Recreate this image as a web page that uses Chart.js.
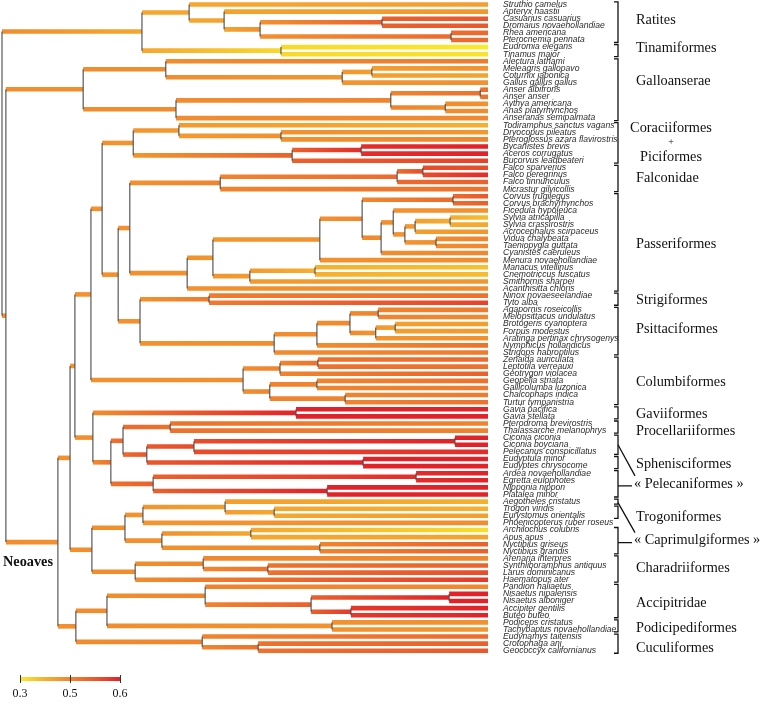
<!DOCTYPE html>
<html>
<head>
<meta charset="utf-8">
<title>Bird phylogeny – rate map</title>
<script src="https://cdn.jsdelivr.net/npm/chart.js@4.4.1/dist/chart.umd.min.js"></script>
<style>
  html, body { margin: 0; padding: 0; background: #fff; }
  #wrap { width: 764px; height: 705px; position: relative; }
</style>
</head>
<body>
<div id="wrap"><canvas id="tree"></canvas></div>
<script>
// ---- tips (top to bottom) ----
const tipNames = [
  "Struthio camelus","Apteryx haastii","Casuarius casuarius","Dromaius novaehollandiae","Rhea americana",
  "Pterocnemia pennata","Eudromia elegans","Tinamus major","Alectura lathami","Meleagris gallopavo",
  "Coturnix japonica","Gallus gallus gallus","Anser albifrons","Anser anser","Aythya americana",
  "Anas platyrhynchos","Anseranas semipalmata","Todiramphus sanctus vagans","Dryocopus pileatus","Pteroglossus azara flavirostris",
  "Bycanistes brevis","Aceros corrugatus","Bucorvus leadbeateri","Falco sparverius","Falco peregrinus",
  "Falco tinnunculus","Micrastur gilvicollis","Corvus frugilegus","Corvus brachyrhynchos","Ficedula hypoleuca",
  "Sylvia atricapilla","Sylvia crassirostris","Acrocephalus scirpaceus","Vidua chalybeata","Taeniopygia guttata",
  "Cyanistes caeruleus","Menura novaehollandiae","Manacus vitellinus","Cnemotriccus fuscatus","Smithornis sharpei",
  "Acanthisitta chloris","Ninox novaeseelandiae","Tyto alba","Agapornis roseicollis","Melopsittacus undulatus",
  "Brotogeris cyanoptera","Forpus modestus","Aratinga pertinax chrysogenys","Nymphicus hollandicus","Strigops habroptilus",
  "Zenaida auriculata","Leptotila verreauxi","Geotrygon violacea","Geopelia striata","Gallicolumba luzonica",
  "Chalcophaps indica","Turtur tympanistria","Gavia pacifica","Gavia stellata","Pterodroma brevirostris",
  "Thalassarche melanophrys","Ciconia ciconia","Ciconia boyciana","Pelecanus conspicillatus","Eudyptula minor",
  "Eudyptes chrysocome","Ardea novaehollandiae","Egretta eulophotes","Nipponia nippon","Platalea minor",
  "Aegotheles cristatus","Trogon viridis","Eurystomus orientalis","Phoenicopterus ruber roseus","Archilochus colubris",
  "Apus apus","Nyctibius griseus","Nyctibius grandis","Arenaria interpres","Synthliboramphus antiquus",
  "Larus dominicanus","Haematopus ater","Pandion haliaetus","Nisaetus nipalensis","Nisaetus alboniger",
  "Accipiter gentilis","Buteo buteo","Podiceps cristatus","Tachybaptus novaehollandiae","Eudynamys taitensis",
  "Crotophaga ani","Geococcyx californianus"
];

// rate value at each tip
const tipRate = [
  0.44,0.46,0.55,0.55,0.53, 0.53,0.30,0.31,0.51,0.47,
  0.43,0.47,0.53,0.52,0.47, 0.48,0.49,0.40,0.46,0.50,
  0.60,0.60,0.57,0.56,0.59, 0.54,0.52,0.55,0.54,0.47,
  0.38,0.42,0.46,0.50,0.49, 0.49,0.48,0.37,0.38,0.46,
  0.48,0.52,0.57,0.51,0.49, 0.44,0.45,0.47,0.52,0.51,
  0.53,0.52,0.54,0.52,0.51, 0.51,0.52,0.60,0.60,0.50,
  0.50,0.60,0.60,0.59,0.60, 0.60,0.60,0.60,0.60,0.60,
  0.40,0.40,0.44,0.48,0.32, 0.43,0.54,0.54,0.49,0.54,
  0.56,0.58,0.49,0.60,0.60, 0.60,0.60,0.47,0.46,0.53,
  0.54,0.55
];

// ---- topology (tips = indices above, internal nodes = nK) ----
const palaeognathae  = "((0,(1,((2,3)n0,(4,5)n1)n2)n3)n4,(6,7)n5)n6";
const galloanserae   = "((8,((9,10)n7,11)n8)n9,(((12,13)n10,(14,15)n11)n12,16)n13)n14";
const coraciiPici    = "((17,(18,19)n15)n16,((20,21)n17,22)n18)n19";
const falconidae     = "(((23,24)n20,25)n21,26)n22";
const passeriformes  = "(((((27,28)n23,((29,(((30,31)n24,32)n25,(33,34)n26)n27)n28,35)n29)n30,36)n31,((37,38)n32,39)n33)n34,40)n35";
const strigiformes   = "(41,42)n37";
const psittaciformes = "((((43,44)n38,((45,46)n39,47)n40)n41,48)n42,49)n43";
const columbiformes  = "(((50,51)n47,52)n48,((53,54)n49,(55,56)n50)n51)n52";
const waterbirds     = "((57,58)n54,(((59,60)n55,(((61,62)n56,63)n57,(64,65)n58)n59)n60,((66,67)n61,(68,69)n62)n63)n64)n65";
const otherLand      = "((((70,(71,72)n67)n68,73)n69,((74,75)n70,(76,77)n71)n72)n73,((78,(79,80)n74)n75,81)n76)n77";
const raptorsCuckoos = "(((82,((83,84)n79,(85,86)n80)n81)n82,(87,88)n83)n84,(89,(90,91)n85)n86)n87";

const topology =
  `(${palaeognathae},(${galloanserae},(((((${coraciiPici},((${falconidae},${passeriformes})n36,` +
  `(${strigiformes},${psittaciformes})n44)n45)n46,${columbiformes})n53,${waterbirds})n66,${otherLand})n78,` +
  `${raptorsCuckoos})n88)n89)n90`;

// depth of internal node nK (root = 0, tips = 100)
const nodeDepth = [
  78.2,92.4,53.1,45.7,38.5,57.4,28.8,76.1,70.0,33.7,
  98.4,91.2,80.0,35.8,16.7,57.4,36.4,73.9,59.7,27.0,
  86.6,81.3,44.9,92.8,92.2,85.0,89.3,82.9,80.5,78.0,
  74.1,65.4,64.4,51.0,43.4,38.1,26.3,42.6,77.4,80.9,
  76.9,71.6,64.8,56.0,28.4,23.9,20.6,65.0,57.2,64.8,
  70.6,55.1,49.6,18.3,60.5,34.6,93.2,39.5,74.3,29.8,
  24.9,85.2,66.9,31.1,22.4,18.7,15.0,56.0,45.9,29.0,
  51.2,65.4,32.9,25.3,54.7,41.4,27.4,18.5,14.0,92.0,
  71.8,63.6,41.8,67.9,21.6,52.7,41.2,15.2,11.5,0.8,
  0
];
// rate value at internal node nK
const nodeRate = [
  0.54,0.53,0.47,0.43,0.42,0.33,0.42,0.44,0.46,0.48,
  0.52,0.48,0.50,0.48,0.48,0.47,0.45,0.59,0.54,0.46,
  0.56,0.53,0.50,0.53,0.41,0.44,0.48,0.46,0.47,0.48,
  0.49,0.47,0.40,0.45,0.46,0.47,0.47,0.51,0.50,0.44,
  0.46,0.49,0.48,0.48,0.47,0.47,0.47,0.52,0.50,0.50,
  0.50,0.50,0.48,0.47,0.60,0.52,0.60,0.56,0.60,0.55,
  0.53,0.59,0.60,0.54,0.52,0.48,0.47,0.42,0.44,0.46,
  0.42,0.50,0.47,0.47,0.52,0.49,0.48,0.48,0.47,0.60,
  0.58,0.54,0.50,0.47,0.48,0.52,0.50,0.48,0.47,0.48,
  0.48
];

// ---- clade brackets ----
const cladeNames = ["Ratites","Tinamiformes","Galloanserae","Coraciiformes|+|Piciformes","Falconidae","Passeriformes",
  "Strigiformes","Psittaciformes","Columbiformes","Gaviiformes","Procellariiformes","Sphenisciformes",
  "Trogoniformes","Charadriiformes","Accipitridae","Podicipediformes","Cuculiformes"];
const cladeFirst = [0,6,8,17,23,27,41,43,50,57,59,64,71,78,82,87,89];
const cladeLast  = [5,7,16,22,26,40,42,49,56,58,60,65,72,81,86,88,91];
const cladeLabelAt = [2.2,6.2,10.8,19.5,24.5,33.7,41.6,45.8,53.2,57.7,60.1,64.8,72.2,79.4,84.3,87.8,90.7];
// paraphyletic groups: two brackets joined to one label
const splitNames = ["« Pelecaniformes »","« Caprimulgiformes »"];
const splitA = [[61,63],[70,70]];
const splitB = [[66,69],[74,77]];

// colour scale
const cbStops  = [0.3, 0.4, 0.5, 0.55, 0.6];
const cbColors = [[249,234,42],[246,176,46],[240,132,46],[233,88,44],[226,34,41]];
// colour-bar legend ticks (placed at equal steps along the bar)
const cbTicks  = [0.3, 0.5, 0.6];

function rateColor(v) {
  v = Math.max(cbStops[0], Math.min(cbStops[cbStops.length - 1], v));
  for (let i = 1; i < cbStops.length; i++) {
    if (v <= cbStops[i]) {
      const t = (v - cbStops[i - 1]) / (cbStops[i] - cbStops[i - 1]);
      const a = cbColors[i - 1], b = cbColors[i];
      return `rgb(${a.map((c, k) => Math.round(c + (b[k] - c) * t)).join(",")})`;
    }
  }
  return `rgb(${cbColors[cbColors.length - 1].join(",")})`;
}
// position of a value along the legend bar (tick index units)
function barPos(v) {
  for (let i = 1; i < cbTicks.length; i++) {
    if (v <= cbTicks[i]) return i - 1 + (v - cbTicks[i - 1]) / (cbTicks[i] - cbTicks[i - 1]);
  }
  return cbTicks.length - 1;
}

// ---- parse + layout ----
function parseNewick(s) {
  let i = 0;
  function node() {
    if (s[i] === "(") {
      i++;
      const kids = [node()];
      while (s[i] === ",") { i++; kids.push(node()); }
      i++; // ')'
      let lab = "";
      while (i < s.length && /[n0-9]/.test(s[i])) lab += s[i++];
      return { id: +lab.slice(1), kids };
    }
    let num = "";
    while (i < s.length && /[0-9]/.test(s[i])) num += s[i++];
    return { tip: +num };
  }
  return node();
}

const branches = [], links = [];
function layout(nd, parent) {
  if (nd.kids) {
    nd.x = nodeDepth[nd.id];
    nd.r = nodeRate[nd.id];
    nd.kids.forEach(k => layout(k, nd));
    nd.y = (nd.kids[0].y + nd.kids[nd.kids.length - 1].y) / 2;
    links.push({ x: nd.x, y0: nd.kids[0].y, y1: nd.kids[nd.kids.length - 1].y });
  } else {
    nd.x = 100;
    nd.r = tipRate[nd.tip];
    nd.y = nd.tip;
  }
  if (parent) branches.push({ x0: parent.x, x1: nd.x, y: nd.y, r0: parent.r, r1: nd.r });
}
layout(parseNewick(topology), null);

function branchGradient(chart, b) {
  const xs = chart.scales.x;
  if (!xs || !chart.chartArea) return rateColor(b.r1);
  const g = chart.ctx.createLinearGradient(xs.getPixelForValue(b.x0), 0, xs.getPixelForValue(b.x1), 0);
  g.addColorStop(0, rateColor(b.r0));
  g.addColorStop(1, rateColor(b.r1));
  return g;
}

const datasets = [];
branches.forEach(b => datasets.push({
  data: [{ x: b.x0, y: b.y }, { x: b.x1, y: b.y }],
  showLine: true, pointRadius: 0, borderWidth: 4.6, borderCapStyle: "butt",
  borderColor: c => branchGradient(c.chart, b), order: 2, clip: false
}));
links.forEach(l => datasets.push({
  data: [{ x: l.x, y: l.y0 }, { x: l.x, y: l.y1 }],
  showLine: true, pointRadius: 0, borderWidth: 1.1, borderColor: "#4a4a4a", order: 1, clip: false
}));

const SERIF = "'Liberation Serif', 'Times New Roman', serif";

// brackets, group names, colour bar, Neoaves label
const annotations = {
  id: "annotations",
  afterDraw(chart) {
    const { ctx, scales: { y, cb } } = chart;
    const bx = 618;
    ctx.save();
    ctx.strokeStyle = "#111";
    ctx.lineWidth = 1.3;
    const bracket = (a, b) => {
      const t = y.getPixelForValue(a) - 2.5, d = y.getPixelForValue(b) + 2.5;
      ctx.beginPath();
      ctx.moveTo(bx - 4, t); ctx.lineTo(bx, t); ctx.lineTo(bx, d); ctx.lineTo(bx - 4, d);
      ctx.stroke();
      return [t, d];
    };
    ctx.fillStyle = "#111";
    ctx.textBaseline = "middle";
    ctx.font = `14.3px ${SERIF}`;
    cladeNames.forEach((name, i) => {
      bracket(cladeFirst[i], cladeLast[i]);
      const yy = y.getPixelForValue(cladeLabelAt[i]);
      if (name.includes("|")) {
        const parts = name.split("|");
        ctx.textAlign = "center";
        ctx.fillText(parts[0], 671, yy - 15);
        ctx.font = `10px ${SERIF}`;
        ctx.fillText(parts[1], 671, yy - 1);
        ctx.font = `14.3px ${SERIF}`;
        ctx.fillText(parts[2], 671, yy + 14);
        ctx.textAlign = "left";
      } else {
        ctx.textAlign = "left";
        ctx.fillText(name, 636, yy);
      }
    });
    splitNames.forEach((name, i) => {
      const [t1, d1] = bracket(splitA[i][0], splitA[i][1]);
      const [t2, d2] = bracket(splitB[i][0], splitB[i][1]);
      const mid = (t2 + d2) / 2;
      ctx.beginPath();
      ctx.moveTo(bx, (t1 + d1) / 2 + (i === 0 ? 0 : 1));
      ctx.lineTo(635, mid - 8);
      ctx.moveTo(bx, mid + 2);
      ctx.lineTo(632, mid + 2);
      ctx.stroke();
      ctx.textAlign = "left";
      ctx.fillText(name, 634, mid);
    });

    // Neoaves
    ctx.font = `bold 14.3px ${SERIF}`;
    ctx.fillText("Neoaves", 3, 562);

    // colour bar
    const x0 = cb.getPixelForValue(0), x1 = cb.getPixelForValue(cbTicks.length - 1);
    const g = ctx.createLinearGradient(x0, 0, x1, 0);
    cbStops.forEach(s => g.addColorStop(barPos(s) / (cbTicks.length - 1), rateColor(s)));
    const by = cb.top + 22;
    ctx.fillStyle = g;
    ctx.fillRect(x0, by, x1 - x0, 4);
    ctx.strokeStyle = "#333";
    ctx.lineWidth = 1;
    cbTicks.forEach((v, i) => {
      const px = Math.round(cb.getPixelForValue(i)) + 0.5;
      ctx.beginPath(); ctx.moveTo(px, by - 2); ctx.lineTo(px, by + 6); ctx.stroke();
    });
    ctx.restore();
  }
};

new Chart(document.getElementById("tree"), {
  type: "scatter",
  data: { datasets },
  options: {
    responsive: true,
    maintainAspectRatio: false,
    animation: false,
    events: [],
    layout: { autoPadding: false, padding: { left: 2, right: 0, top: 0, bottom: 0 } },
    plugins: { legend: { display: false }, tooltip: { enabled: false } },
    scales: {
      x: { type: "linear", min: 0, max: 100, display: false },
      y: {
        type: "linear", position: "right", reverse: true, min: -0.63, max: 91.6,
        grid: { display: false, drawTicks: false }, border: { display: false },
        afterBuildTicks: s => { s.ticks = tipNames.map((_, i) => ({ value: i })); },
        afterFit: s => { s.width = 764 - 488; s.paddingTop = 0; s.paddingBottom = 0; },
        ticks: {
          autoSkip: false, padding: 15, color: "#2b2b2b",
          font: { family: "'Liberation Sans', Arial, sans-serif", size: 8.6, style: "italic" },
          callback: v => tipNames[v]
        }
      },
      cb: {
        axis: "x", type: "linear", position: "bottom", min: -0.36, max: 9.36,
        grid: { display: false, drawTicks: false }, border: { display: false },
        afterBuildTicks: s => { s.ticks = cbTicks.map((_, i) => ({ value: i })); },
        afterFit: s => { s.height = 50; s.paddingLeft = 0; s.paddingRight = 0; },
        ticks: {
          autoSkip: false, padding: 32, color: "#111", maxRotation: 0,
          font: { family: SERIF, size: 12 },
          callback: v => cbTicks[v].toFixed(1)
        }
      }
    }
  },
  plugins: [annotations]
});
</script>
</body>
</html>
